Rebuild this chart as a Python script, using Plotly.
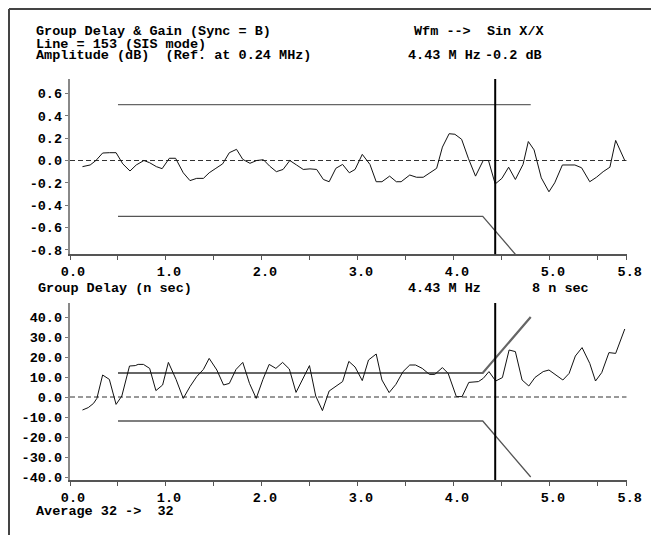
import plotly.graph_objects as go

# The page body has an 8px margin, so the figure is sized to fill the rest of the window
# and every layout position below is given in window pixels, then converted.
PAGE_MARGIN = 8
WIN_W, WIN_H = 659, 535
W, H = WIN_W - PAGE_MARGIN, WIN_H - PAGE_MARGIN

# ---------------- data ----------------
amp_freq = [0.13, 0.21, 0.27, 0.34, 0.41, 0.48, 0.55, 0.625, 0.69, 0.77, 0.83, 0.90, 0.96,
            1.035, 1.10, 1.18, 1.25, 1.32, 1.39, 1.45, 1.52, 1.59, 1.66, 1.735, 1.80, 1.875,
            1.945, 2.015, 2.08, 2.15, 2.22, 2.29, 2.36, 2.43, 2.50, 2.57, 2.64, 2.70, 2.77,
            2.84, 2.91, 2.97, 3.045, 3.125, 3.19, 3.25, 3.33, 3.40, 3.45, 3.54, 3.61, 3.68,
            3.75, 3.82, 3.88, 3.95, 4.01, 4.08, 4.15, 4.225, 4.305, 4.36, 4.43, 4.50, 4.57,
            4.64, 4.72, 4.775, 4.835, 4.91, 4.99, 5.05, 5.13, 5.20, 5.26, 5.33, 5.415, 5.485,
            5.555, 5.625, 5.685, 5.78]
amp_db = [-0.055, -0.04, 0.0, 0.067, 0.07, 0.07, -0.03, -0.094, -0.04, 0.0, -0.02, -0.055, -0.073,
          0.02, 0.02, -0.11, -0.18, -0.16, -0.16, -0.11, -0.07, -0.03, 0.07, 0.10, 0.01, -0.025,
          0.0, 0.007, -0.05, -0.10, -0.08, 0.0, -0.04, -0.08, -0.075, -0.08, -0.17, -0.19, -0.07,
          -0.035, -0.11, -0.08, 0.055, -0.035, -0.19, -0.19, -0.14, -0.19, -0.19, -0.13, -0.15, -0.15,
          -0.11, -0.07, 0.12, 0.24, 0.235, 0.19, 0.02, -0.14, 0.0, 0.0, -0.21, -0.16, -0.06,
          -0.17, -0.035, 0.17, 0.095, -0.155, -0.28, -0.2, -0.04, -0.04, -0.04, -0.065, -0.19, -0.15,
          -0.10, -0.06, 0.18, 0.0]

gd_freq = [0.13, 0.19, 0.245, 0.28, 0.34, 0.41, 0.48, 0.54, 0.62, 0.68, 0.71, 0.765, 0.83, 0.895,
           0.965, 1.025, 1.105, 1.18, 1.25, 1.32, 1.39, 1.45, 1.53, 1.60, 1.66, 1.73, 1.80, 1.87,
           1.94, 2.01, 2.075, 2.145, 2.215, 2.285, 2.355, 2.425, 2.495, 2.56, 2.63, 2.70, 2.77,
           2.84, 2.905, 2.97, 3.045, 3.11, 3.19, 3.25, 3.325, 3.395, 3.47, 3.54, 3.60, 3.67,
           3.745, 3.80, 3.88, 3.94, 4.025, 4.085, 4.155, 4.255, 4.305, 4.365, 4.435, 4.505,
           4.575, 4.64, 4.71, 4.78, 4.845, 4.93, 4.99, 5.07, 5.135, 5.20, 5.265, 5.335, 5.415,
           5.475, 5.54, 5.615, 5.685, 5.78]
gd_ns = [-6.5, -5.3, -3.2, -0.7, 11.0, 8.8, -3.7, 0.5, 15.5, 15.7, 16.3, 16.3, 14.3, 3.2,
         6.0, 17.3, 8.8, -0.7, 5.2, 10.2, 13.8, 19.3, 13.5, 6.0, 6.8, 13.8, 17.3, 6.8,
         -0.7, 8.8, 16.3, 14.3, 17.3, 14.0, 2.3, 9.3, 15.7, 0.5, -6.8, 3.0, 5.2,
         7.7, 17.8, 15.0, 8.2, 18.5, 21.5, 8.5, 2.2, 6.3, 12.7, 16.0, 16.0, 14.3,
         11.3, 11.3, 14.7, 11.8, 0.2, 0.2, 7.3, 7.7, 9.3, 12.7, 8.0, 9.7,
         23.5, 22.7, 8.5, 5.5, 9.8, 12.7, 13.5, 10.7, 8.5, 11.8, 20.5, 24.7, 16.8,
         8.0, 12.2, 22.2, 21.8, 34.0]

# limit masks
amp_up_x = [0.5, 4.8]
amp_up_y = [0.5, 0.5]
amp_lo_x = [0.5, 4.3, 4.8]
amp_lo_y = [-0.5, -0.5, -1.0]
gd_up_x = [0.5, 4.3, 4.8]
gd_up_y = [12, 12, 40]
gd_lo_x = [0.5, 4.3, 4.8]
gd_lo_y = [-12, -12, -40]
zero_x = [0.0, 5.8]
zero_y = [0.0, 0.0]
cursor_mhz = 4.43

x_ticks = [0, 1, 2, 3, 4, 5, 5.8]
x_ticktext = ["0.0", "1.0", "2.0", "3.0", "4.0", "5.0", "5.8"]
x_minor = [0.5, 1.5, 2.5, 3.5, 4.5, 5.5]
amp_ticks = [0.6, 0.4, 0.2, 0.0, -0.2, -0.4, -0.6, -0.8]
amp_ticktext = ["0.6", "0.4", "0.2", "0.0", "-0.2", "-0.4", "-0.6", "-0.8"]
gd_ticks = [40, 30, 20, 10, 0, -10, -20, -30, -40]
gd_ticktext = ["40.0", "30.0", "20.0", "10.0", "0.0", "-10.0", "-20.0", "-30.0", "-40.0"]

FONT = "Liberation Mono, Courier New, monospace"
FS = 13.5

fig = go.Figure()

def add_traces(xa, ya, data_x, data_y, ux, uy, lx, ly, upw):
    fig.add_trace(go.Scatter(x=zero_x, y=zero_y, mode="lines", xaxis=xa, yaxis=ya,
                             line=dict(color="#333333", width=1, dash="5px,3px"), hoverinfo="skip"))
    fig.add_trace(go.Scatter(x=ux, y=uy, mode="lines", xaxis=xa, yaxis=ya,
                             line=dict(color="#666666", width=upw), hoverinfo="skip"))
    fig.add_trace(go.Scatter(x=lx, y=ly, mode="lines", xaxis=xa, yaxis=ya,
                             line=dict(color="#555555", width=1.3), hoverinfo="skip"))
    fig.add_trace(go.Scatter(x=data_x, y=data_y, mode="lines", xaxis=xa, yaxis=ya,
                             line=dict(color="#111111", width=1), hoverinfo="skip"))

add_traces("x", "y", amp_freq, amp_db, amp_up_x, amp_up_y, amp_lo_x, amp_lo_y, 1.3)
add_traces("x2", "y2", gd_freq, gd_ns, gd_up_x, gd_up_y, gd_lo_x, gd_lo_y, 2.2)

def px_x(p):
    # window pixel -> paper fraction
    return (p - PAGE_MARGIN) / W

def px_y(p):
    return 1 - (p - PAGE_MARGIN) / H

xdom = [px_x(70), px_x(626.7)]
xaxis_common = dict(range=[0, 5.8], tickmode="array", tickvals=x_ticks, ticktext=x_ticktext,
                    ticks="outside", ticklen=4, tickcolor="#555555", tickwidth=1.3,
                    showline=True, linecolor="#555555", linewidth=1.5, showgrid=False,
                    zeroline=False, minor=dict(tickvals=x_minor, ticks="outside", ticklen=4,
                                               tickcolor="#555555", tickwidth=1.3),
                    tickfont=dict(family=FONT, size=FS, color="black", weight="bold"),
                    ticklabelshift=3, fixedrange=True, automargin=False)
yaxis_common = dict(ticks="outside", ticklen=3.5, tickcolor="#777777", tickwidth=1.2,
                    showline=True, linecolor="#888888", linewidth=1.5, showgrid=False,
                    zeroline=False, tickmode="array",
                    tickfont=dict(family=FONT, size=FS, color="black", weight="bold"),
                    fixedrange=True, automargin=False)

fig.update_layout(
    width=W, height=H, autosize=False,
    margin=dict(l=0, r=0, t=0, b=0, pad=0),
    paper_bgcolor="white", plot_bgcolor="white",
    showlegend=False,
    font=dict(family=FONT, size=FS, color="black", weight="bold"),
    xaxis=dict(domain=xdom, anchor="y", **xaxis_common),
    yaxis=dict(domain=[px_y(254.3), px_y(79)], anchor="x", range=[-0.84, 0.73],
               tickvals=amp_ticks, ticktext=amp_ticktext, **yaxis_common),
    xaxis2=dict(domain=xdom, anchor="y2", **xaxis_common),
    yaxis2=dict(domain=[px_y(480), px_y(303)], anchor="x2", range=[-41.5, 47],
                tickvals=gd_ticks, ticktext=gd_ticktext, **yaxis_common),
)

# cursor lines
for xr, yr in (("x", "y domain"), ("x2", "y2 domain")):
    fig.add_shape(type="line", xref=xr, yref=yr, x0=cursor_mhz, x1=cursor_mhz, y0=0, y1=1,
                  line=dict(color="black", width=2))

# frame (left + top), as close to the window edge as the page allows
fig.add_shape(type="line", xref="paper", yref="paper", x0=px_x(9), x1=px_x(9),
              y0=-0.05, y1=px_y(9), line=dict(color="#444444", width=2))
fig.add_shape(type="line", xref="paper", yref="paper", x0=px_x(9), x1=1.05,
              y0=px_y(9), y1=px_y(9), line=dict(color="#444444", width=2))

texts = [
    ("Group Delay & Gain (Sync = B)", 35, 32),
    ("Wfm -->  Sin X/X", 413, 32),
    ("Line = 153 (SIS mode)", 35, 44),
    ("Amplitude (dB)  (Ref. at 0.24 MHz)", 35, 56),
    ("4.43 M Hz", 407, 56),
    ("-0.2 dB", 484, 56),
    ("Group Delay (n sec)", 37, 288),
    ("4.43 M Hz", 407, 288),
    ("8 n sec", 530.5, 288),
    ("Average 32 ->  32", 35, 511.7),
]
for t, x, y in texts:
    fig.add_annotation(text=t, xref="paper", yref="paper", x=px_x(x), y=px_y(y),
                       xanchor="left", yanchor="middle", showarrow=False,
                       font=dict(family=FONT, size=FS, color="black", weight="bold"),
                       borderpad=0)

fig.write_html("out.html")
